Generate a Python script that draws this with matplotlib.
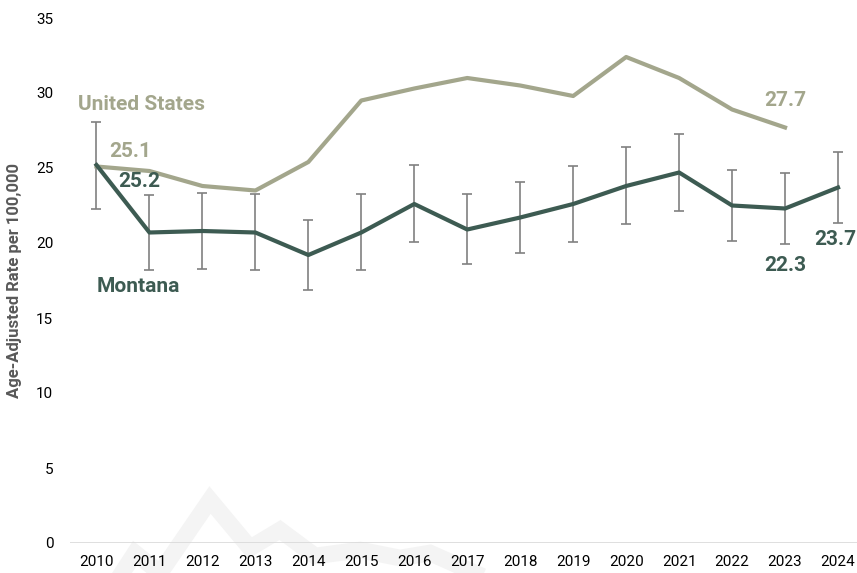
import matplotlib.pyplot as plt

# data
years = list(range(2010, 2025))
us_years = list(range(2010, 2024))
us_rate = [25.1, 24.8, 23.8, 23.5, 25.4, 29.5, 30.3, 31.0, 30.5, 29.8, 32.4, 31.0, 28.9, 27.7]
mt_rate = [25.2, 20.7, 20.8, 20.7, 19.2, 20.7, 22.6, 20.9, 21.7, 22.6, 23.8, 24.7, 22.5, 22.3, 23.7]
mt_upper = [28.1, 23.2, 23.35, 23.25, 21.55, 23.3, 25.2, 23.3, 24.05, 25.15, 26.4, 27.25, 24.85, 24.7, 26.05]
mt_lower = [22.3, 18.2, 18.3, 18.2, 16.9, 18.2, 20.1, 18.6, 19.35, 20.1, 21.3, 22.15, 20.15, 19.95, 21.35]

us_color = '#a3a68c'
mt_color = '#3d5b52'

plt.rcParams['font.family'] = ['Roboto', 'DejaVu Sans']

fig = plt.figure(figsize=(8.57, 5.73), dpi=100)

# faint decorative watermark behind the axis labels
wm_x = [122, 135, 160, 210, 250, 280, 315, 360, 400, 430, 475]
wm_y = [573, 553, 573, 500, 548, 530, 556, 550, 558, 553, 573]
fig.add_artist(plt.Line2D([v / 857 for v in wm_x], [1 - v / 573 for v in wm_y],
                          transform=fig.transFigure, color='#f4f4f4', lw=12,
                          solid_joinstyle='miter', zorder=0))

ax = fig.add_axes([70 / 857, 1 - 543 / 573, 794.5 / 857, (543 - 18) / 573])
ax.set_facecolor('none')

yerr = [[m - l for m, l in zip(mt_rate, mt_lower)], [u - m for m, u in zip(mt_rate, mt_upper)]]
ax.errorbar(years, mt_rate, yerr=yerr, fmt='none', ecolor='#808080', elinewidth=1.2,
            capsize=3.5, capthick=1.2, zorder=2)
ax.plot(us_years, us_rate, color=us_color, lw=3, zorder=3)
ax.plot(years, mt_rate, color=mt_color, lw=3, zorder=4)

ax.set_xlim(2009.5, 2024.5)
ax.set_ylim(0, 35)
ax.set_yticks(range(0, 36, 5))
ax.set_xticks(years)
ax.tick_params(length=0, labelsize=11, colors='#000000')
ax.tick_params(axis='x', pad=9)
ax.tick_params(axis='y', pad=12)
for s in ax.spines.values():
    s.set_visible(False)
ax.axhline(0, color='#d9d9d9', lw=1.2, zorder=1)

ax.set_ylabel('Age-Adjusted Rate per 100,000', fontsize=12, fontweight='bold',
              color='#595959')
ax.yaxis.set_label_coords(-48 / 794.5, 0.5)

lab = dict(fontsize=15, fontweight='bold', va='center')
ax.text(2009.66, 29.2, 'United States', color=us_color, ha='left', **lab)
ax.text(2010.25, 26.07, '25.1', color=us_color, ha='left', **lab)
ax.text(2010.42, 24.07, '25.2', color=mt_color, ha='left', **lab)
ax.text(2010.0, 17.07, 'Montana', color=mt_color, ha='left', **lab)
ax.text(2023.0, 29.47, '27.7', color=us_color, ha='center', **lab)
ax.text(2023.0, 18.5, '22.3', color=mt_color, ha='center', **lab)
ax.text(2023.94, 20.2, '23.7', color=mt_color, ha='center', **lab)

fig.savefig('out.png', dpi=100)
